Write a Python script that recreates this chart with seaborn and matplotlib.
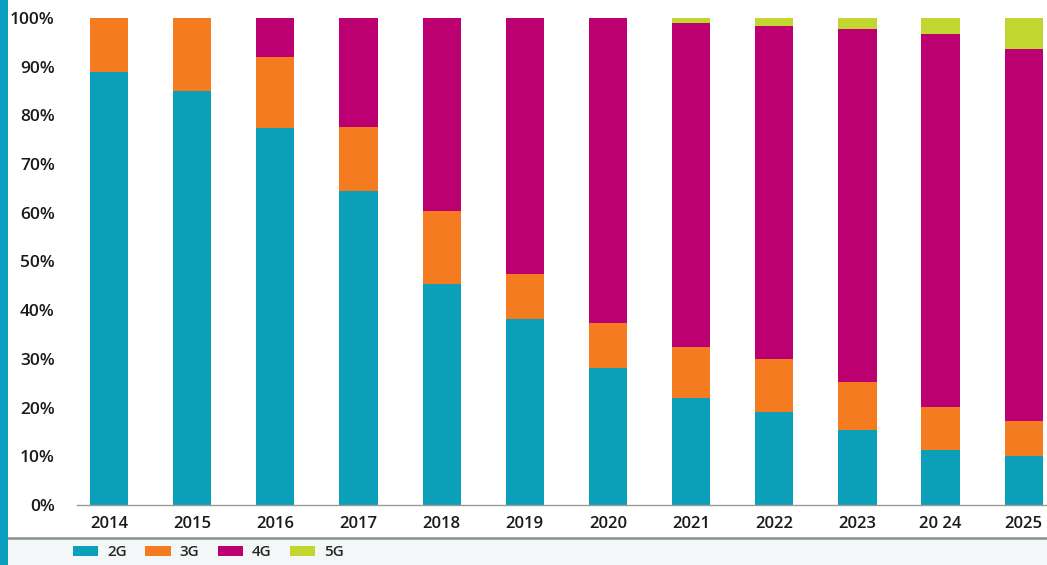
import matplotlib
matplotlib.use("Agg")
import matplotlib.pyplot as plt
import matplotlib.patches as mpatches
import matplotlib.lines as mlines
import numpy as np
import pandas as pd
import seaborn as sns

years = ["2014", "2015", "2016", "2017", "2018", "2019", "2020", "2021", "2022", "2023", "2024", "2025"]
tick_labels = ["2014", "2015", "2016", "2017", "2018", "2019", "2020", "2021", "2022", "2023", "20 24", "2025"]
share_2g = [89.0, 84.9, 77.5, 64.4, 45.4, 38.2, 28.2, 21.9, 19.0, 15.3, 11.2, 10.0]
share_3g = [11.0, 15.1, 14.5, 13.3, 14.9, 9.2, 9.2, 10.6, 10.9, 9.9, 9.0, 7.2]
share_4g = [0.0, 0.0, 8.0, 22.3, 39.7, 52.6, 62.6, 66.5, 68.5, 72.6, 76.5, 76.5]
share_5g = [0.0, 0.0, 0.0, 0.0, 0.0, 0.0, 0.0, 1.0, 1.6, 2.2, 3.3, 6.3]
series_names = ["2G", "3G", "4G", "5G"]
colors = ["#0b9fb9", "#f47b20", "#bd0071", "#c3d630"]
y_ticks = [0, 10, 20, 30, 40, 50, 60, 70, 80, 90, 100]

sns.set_theme(style="white")
plt.rcParams["font.family"] = ["Open Sans", "DejaVu Sans"]

df = pd.DataFrame({"year": years, "2G": share_2g, "3G": share_3g, "4G": share_4g, "5G": share_5g})
cum = df[series_names].cumsum(axis=1)

W, H = 1047, 565
fig = plt.figure(figsize=(W / 100, H / 100), dpi=100)
fig.patch.set_facecolor("white")

ax = fig.add_axes([77 / W, (H - 505) / H, 1 - 77 / W, (505 - 16) / H])

# draw cumulative stacks from top layer down
for name, col in reversed(list(zip(series_names, colors))):
    tmp = pd.DataFrame({"year": df["year"], "val": cum[name]})
    sns.barplot(data=tmp, x="year", y="val", color=col, width=0.46,
                saturation=1, ax=ax, edgecolor="none", linewidth=0)

ax.set_ylim(0, 100.4)
ax.set_xlim(-0.385, 11.28)
ax.set_xlabel("")
ax.set_ylabel("")
ax.set_yticks(y_ticks)
ax.set_yticklabels([f"{t}%" for t in y_ticks], fontsize=12.5, color="#1a1a1a", fontweight="semibold")
ax.set_xticks(range(len(years)))
ax.set_xticklabels(tick_labels, fontsize=12, color="#1a1a1a", fontweight="semibold")
ax.tick_params(axis="y", length=0, pad=16)
ax.tick_params(axis="x", length=0, pad=8)
for s in ["top", "right", "left"]:
    ax.spines[s].set_visible(False)
ax.spines["bottom"].set_color("#9a9a9a")
ax.spines["bottom"].set_linewidth(1.0)
ax.grid(False)

# bottom legend band
fig.patches.append(mpatches.Rectangle((0, 0), 1, (H - 539) / H, transform=fig.transFigure,
                                      facecolor="#f4f7f7", edgecolor="none", zorder=0))
fig.lines.append(mlines.Line2D([8 / W, 1], [(H - 538) / H] * 2, transform=fig.transFigure,
                               color="#8a8f90", linewidth=1.8))
# left accent strip
fig.patches.append(mpatches.Rectangle((0, 0), 8 / W, 1, transform=fig.transFigure,
                                      facecolor="#0a9fbf", edgecolor="none", zorder=5))

handles = [mpatches.Patch(facecolor=c, edgecolor="none") for c in colors]
fig.legend(handles, series_names, loc="center left", bbox_to_anchor=(73 / W, (H - 552) / H),
           ncol=4, frameon=False, handlelength=1.65, handleheight=0.65,
           columnspacing=1.2, handletextpad=0.6, borderaxespad=0, borderpad=0,
           prop={"weight": "semibold", "size": 11})

fig.savefig("out.png", dpi=100)
